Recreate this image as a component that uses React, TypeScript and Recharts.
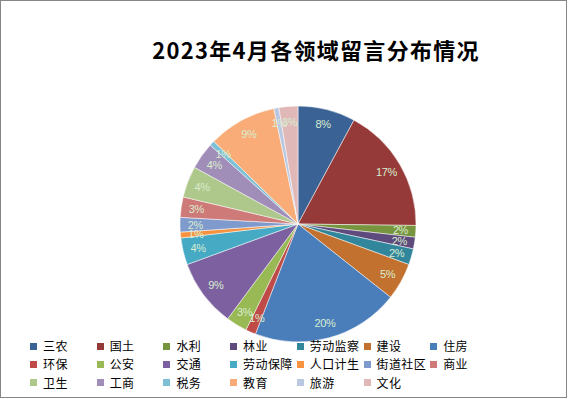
import { PieChart, Pie, Cell, Legend } from "recharts";

const categories = [
  "三农", "国土", "水利", "林业", "劳动监察", "建设", "住房",
  "环保", "公安", "交通", "劳动保障", "人口计生", "街道社区", "商业",
  "卫生", "工商", "税务", "教育", "旅游", "文化",
];
const counts = [79, 174, 16, 16, 22, 51, 203, 14, 29, 93, 37, 8, 20, 28, 43, 37, 7, 94, 7, 26];
const colors = [
  "#3b6294", "#953a38", "#77953e", "#5f4a7d", "#31869b", "#c2712f", "#4a7ebb",
  "#be4b48", "#98b954", "#7d60a0", "#46aac5", "#f69240", "#7f9acd", "#ce7a78",
  "#aec78a", "#a08db8", "#7bc0d4", "#f9ac77", "#b9c7e0", "#e0b8b8",
];

const data = categories.map((name, i) => ({ name, value: counts[i] }));
const total = counts.reduce((a, b) => a + b, 0);

const RAD = Math.PI / 180;

function renderLabel(p: any) {
  const r = p.outerRadius * 0.87;
  const x = p.cx + r * Math.cos(-p.midAngle * RAD);
  const y = p.cy + r * Math.sin(-p.midAngle * RAD);
  return (
    <text x={x} y={y} fill="#d8ecd0" fontSize={11} fontFamily="Liberation Sans, sans-serif"
      textAnchor="middle" dominantBaseline="central" letterSpacing={-0.4}>
      {Math.round((p.value / total) * 100)}%
    </text>
  );
}

function LegendGrid() {
  return (
    <div style={{ position: "relative", width: 567, height: 60 }}>
      {categories.map((c, i) => {
        const col = i % 7;
        const row = Math.floor(i / 7);
        return (
          <div key={c} style={{
            position: "absolute", left: 30 + col * 66.7, top: row * 18.3,
            display: "flex", alignItems: "center", height: 14,
            fontSize: 12, fontFamily: "'Noto Sans CJK SC', sans-serif", color: "#000",
            whiteSpace: "nowrap", lineHeight: "14px", letterSpacing: 0.4,
          }}>
            <span style={{ width: 7, height: 7, background: colors[i], display: "inline-block", marginRight: 6 }} />
            {c}
          </div>
        );
      })}
    </div>
  );
}

export default function App() {
  return (
    <div style={{ position: "absolute", left: 0, top: 0, width: 567, height: 398, boxSizing: "border-box", border: "1px solid #868686", background: "#fff" }}>
      <div style={{
        position: "absolute", left: 0, width: 630, top: 33, textAlign: "center",
        fontSize: 22, fontWeight: 700, letterSpacing: 1.3, lineHeight: "30px",
        fontFamily: "'Noto Sans CJK SC', sans-serif", color: "#000",
      }}>
        2023年4月各领域留言分布情况
      </div>
      <div style={{ position: "absolute", left: -1, top: -1 }}>
        <PieChart width={567} height={398} margin={{ top: 0, right: 0, bottom: 0, left: 0 }}>
          <Pie data={data} dataKey="value" nameKey="name" cx={298} cy={224} outerRadius={118}
            startAngle={90} endAngle={-270} stroke="#ffffff" strokeWidth={0.5}
            label={renderLabel} labelLine={false} isAnimationActive={false}>
            {data.map((d, i) => <Cell key={d.name} fill={colors[i]} />)}
          </Pie>
          <Legend content={() => <LegendGrid />} wrapperStyle={{ position: "absolute", left: 0, top: 339, width: 567 }} />
        </PieChart>
      </div>
    </div>
  );
}
